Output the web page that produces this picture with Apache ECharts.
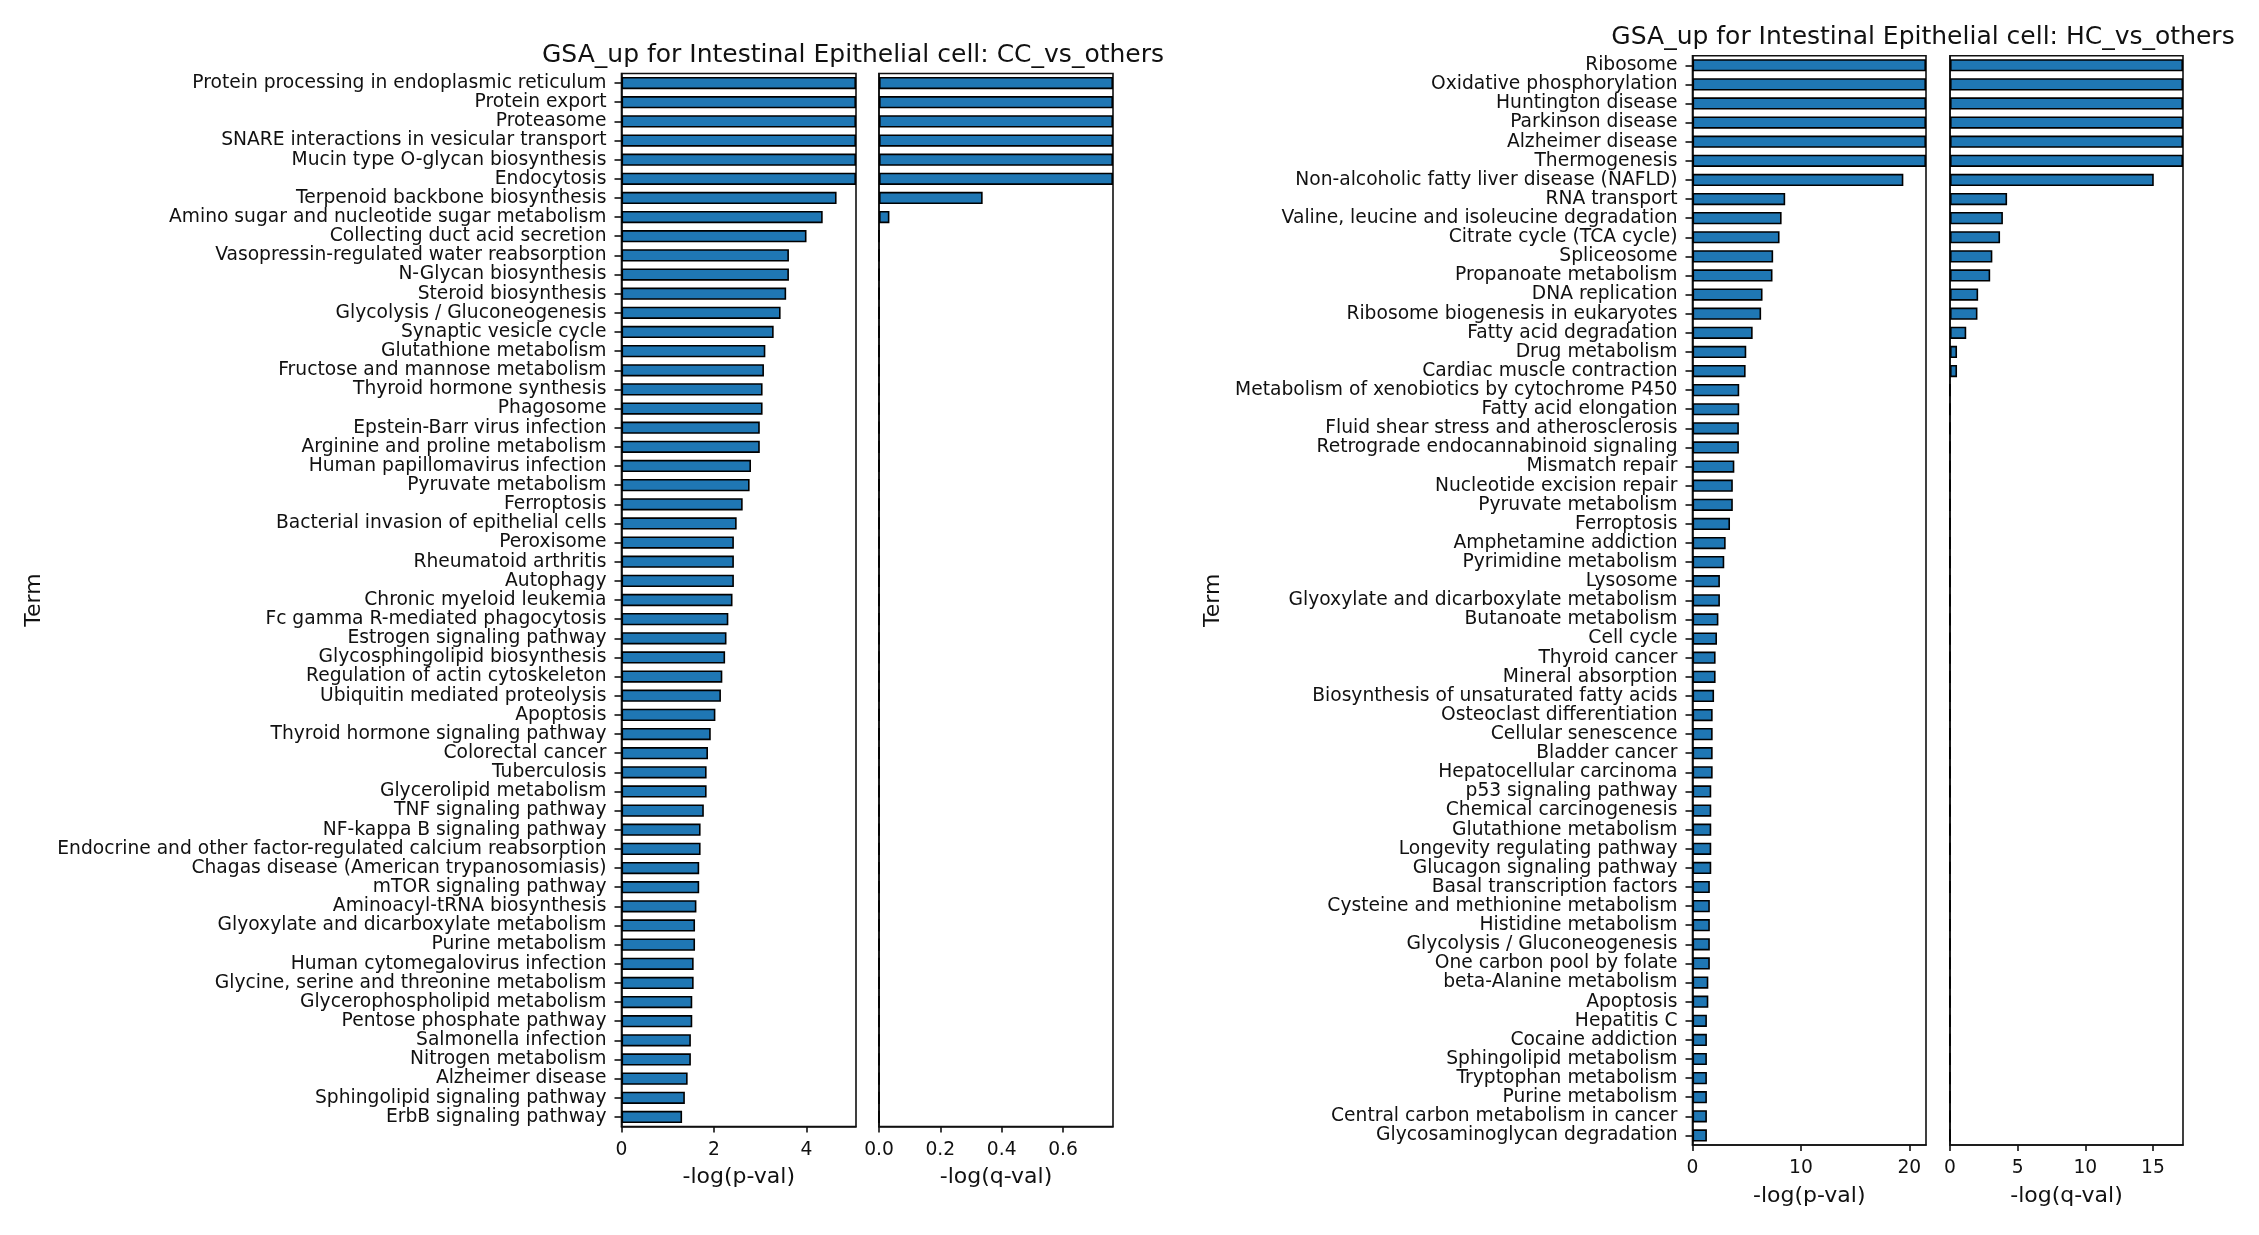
<!DOCTYPE html>
<html>
<head>
<meta charset="utf-8">
<script src="https://cdn.jsdelivr.net/npm/echarts@6/dist/echarts.min.js"></script>
<style>
  html, body { margin: 0; padding: 0; background: #fff; }
  #main { width: 2259px; height: 1235px; }
</style>
</head>
<body>
<div id="main"></div>
<script>
// CC_vs_others
const leftTerms = [
  'Protein processing in endoplasmic reticulum', 'Protein export', 'Proteasome',
  'SNARE interactions in vesicular transport', 'Mucin type O-glycan biosynthesis', 'Endocytosis',
  'Terpenoid backbone biosynthesis', 'Amino sugar and nucleotide sugar metabolism',
  'Collecting duct acid secretion', 'Vasopressin-regulated water reabsorption',
  'N-Glycan biosynthesis', 'Steroid biosynthesis', 'Glycolysis / Gluconeogenesis',
  'Synaptic vesicle cycle', 'Glutathione metabolism', 'Fructose and mannose metabolism',
  'Thyroid hormone synthesis', 'Phagosome', 'Epstein-Barr virus infection',
  'Arginine and proline metabolism', 'Human papillomavirus infection', 'Pyruvate metabolism',
  'Ferroptosis', 'Bacterial invasion of epithelial cells', 'Peroxisome', 'Rheumatoid arthritis',
  'Autophagy', 'Chronic myeloid leukemia', 'Fc gamma R-mediated phagocytosis',
  'Estrogen signaling pathway', 'Glycosphingolipid biosynthesis', 'Regulation of actin cytoskeleton',
  'Ubiquitin mediated proteolysis', 'Apoptosis', 'Thyroid hormone signaling pathway',
  'Colorectal cancer', 'Tuberculosis', 'Glycerolipid metabolism', 'TNF signaling pathway',
  'NF-kappa B signaling pathway', 'Endocrine and other factor-regulated calcium reabsorption',
  'Chagas disease (American trypanosomiasis)', 'mTOR signaling pathway',
  'Aminoacyl-tRNA biosynthesis', 'Glyoxylate and dicarboxylate metabolism', 'Purine metabolism',
  'Human cytomegalovirus infection', 'Glycine, serine and threonine metabolism',
  'Glycerophospholipid metabolism', 'Pentose phosphate pathway', 'Salmonella infection',
  'Nitrogen metabolism', 'Alzheimer disease', 'Sphingolipid signaling pathway', 'ErbB signaling pathway'
];
const leftPval = [
  5.07, 5.07, 5.07, 5.07, 5.07, 5.07, 4.65, 4.35, 4.0, 3.62, 3.62, 3.56, 3.44, 3.29, 3.11,
  3.08, 3.05, 3.05, 2.99, 2.99, 2.80, 2.77, 2.62, 2.49, 2.43, 2.43, 2.43, 2.40, 2.31, 2.27,
  2.24, 2.18, 2.15, 2.03, 1.93, 1.87, 1.84, 1.84, 1.78, 1.71, 1.71, 1.68, 1.68, 1.62, 1.59,
  1.59, 1.56, 1.56, 1.53, 1.53, 1.50, 1.50, 1.43, 1.37, 1.31
];
const leftQval = [
  0.763, 0.763, 0.763, 0.763, 0.763, 0.763, 0.338, 0.034, 0, 0, 0, 0, 0, 0, 0,
  0, 0, 0, 0, 0, 0, 0, 0, 0, 0, 0, 0, 0, 0, 0,
  0, 0, 0, 0, 0, 0, 0, 0, 0, 0, 0, 0, 0, 0, 0,
  0, 0, 0, 0, 0, 0, 0, 0, 0, 0
];

// HC_vs_others
const rightTerms = [
  'Ribosome', 'Oxidative phosphorylation', 'Huntington disease', 'Parkinson disease',
  'Alzheimer disease', 'Thermogenesis', 'Non-alcoholic fatty liver disease (NAFLD)',
  'RNA transport', 'Valine, leucine and isoleucine degradation', 'Citrate cycle (TCA cycle)',
  'Spliceosome', 'Propanoate metabolism', 'DNA replication', 'Ribosome biogenesis in eukaryotes',
  'Fatty acid degradation', 'Drug metabolism', 'Cardiac muscle contraction',
  'Metabolism of xenobiotics by cytochrome P450', 'Fatty acid elongation',
  'Fluid shear stress and atherosclerosis', 'Retrograde endocannabinoid signaling',
  'Mismatch repair', 'Nucleotide excision repair', 'Pyruvate metabolism', 'Ferroptosis',
  'Amphetamine addiction', 'Pyrimidine metabolism', 'Lysosome',
  'Glyoxylate and dicarboxylate metabolism', 'Butanoate metabolism', 'Cell cycle',
  'Thyroid cancer', 'Mineral absorption', 'Biosynthesis of unsaturated fatty acids',
  'Osteoclast differentiation', 'Cellular senescence', 'Bladder cancer',
  'Hepatocellular carcinoma', 'p53 signaling pathway', 'Chemical carcinogenesis',
  'Glutathione metabolism', 'Longevity regulating pathway', 'Glucagon signaling pathway',
  'Basal transcription factors', 'Cysteine and methionine metabolism', 'Histidine metabolism',
  'Glycolysis / Gluconeogenesis', 'One carbon pool by folate', 'beta-Alanine metabolism',
  'Apoptosis', 'Hepatitis C', 'Cocaine addiction', 'Sphingolipid metabolism',
  'Tryptophan metabolism', 'Purine metabolism', 'Central carbon metabolism in cancer',
  'Glycosaminoglycan degradation'
];
const rightPval = [
  21.54, 21.54, 21.54, 21.54, 21.54, 21.54, 19.45, 8.55, 8.22, 8.03, 7.44, 7.38, 6.46, 6.33,
  5.55, 4.96, 4.90, 4.31, 4.31, 4.28, 4.28, 3.86, 3.72, 3.72, 3.46, 3.06, 2.93, 2.53, 2.53,
  2.39, 2.26, 2.13, 2.13, 1.99, 1.86, 1.86, 1.86, 1.86, 1.73, 1.73, 1.73, 1.73, 1.73,
  1.60, 1.60, 1.60, 1.60, 1.60, 1.46, 1.46, 1.33, 1.33, 1.33, 1.33, 1.33, 1.33, 1.33
];
const rightQval = [
  17.22, 17.22, 17.22, 17.22, 17.22, 17.22, 15.06, 4.22, 3.91, 3.70, 3.13, 2.97, 2.08, 2.03,
  1.20, 0.52, 0.52, 0, 0, 0, 0, 0, 0, 0, 0, 0, 0, 0, 0,
  0, 0, 0, 0, 0, 0, 0, 0, 0, 0, 0, 0, 0, 0,
  0, 0, 0, 0, 0, 0, 0, 0, 0, 0, 0, 0, 0, 0
];

const leftPTicks = [0, 2, 4];
const leftQTicks = [0, 0.2, 0.4, 0.6];
const rightPTicks = [0, 10, 20];
const rightQTicks = [0, 5, 10, 15];

const FONT = 'DejaVu Sans';
const INK = '#111';

const chart = echarts.init(document.getElementById('main'), null, { renderer: 'canvas' });

function grid(left, top, width, height) {
  return {
    left: left, top: top, width: width, height: height,
    show: true, borderColor: INK, borderWidth: 1.6, backgroundColor: 'transparent'
  };
}

function xAxis(idx, max, ticks, digits) {
  return {
    type: 'value', gridIndex: idx, min: 0, max: max,
    name: idx % 2 === 0 ? '-log(p-val)' : '-log(q-val)',
    nameLocation: 'middle', nameGap: 40,
    nameTextStyle: { fontFamily: FONT, fontSize: 22, color: INK },
    axisLine: { show: true, onZero: false, lineStyle: { color: INK, width: 1.6 } },
    axisTick: { show: true, length: 6, customValues: ticks, lineStyle: { color: INK, width: 1.6 } },
    axisLabel: {
      customValues: ticks, margin: 14, fontFamily: FONT, fontSize: 18.7, color: INK,
      formatter: v => v.toFixed(digits)
    },
    splitLine: { show: false }
  };
}

function yAxis(idx, terms, withLabels, gap) {
  return {
    type: 'category', gridIndex: idx, data: terms, inverse: true,
    name: withLabels ? 'Term' : '', nameLocation: 'middle', nameGap: gap, nameRotate: 90,
    nameTextStyle: { fontFamily: FONT, fontSize: 22, color: INK },
    axisLine: { show: true, lineStyle: { color: INK, width: 1.6 } },
    axisTick: { show: withLabels, length: 7, alignWithLabel: true, lineStyle: { color: INK, width: 1.6 } },
    axisLabel: {
      show: withLabels, interval: 0, margin: 15,
      fontFamily: FONT, fontSize: 18.7, color: INK
    },
    splitLine: { show: false }
  };
}

function bars(idx, values) {
  return {
    type: 'bar', xAxisIndex: idx, yAxisIndex: idx, data: values,
    barWidth: '64%', clip: true, silent: true,
    itemStyle: { color: '#1f77b4', borderColor: '#000', borderWidth: 1.6 }
  };
}

const option = {
  animation: false,
  backgroundColor: '#fff',
  textStyle: { fontFamily: FONT },
  title: [
    {
      text: 'GSA_up for Intestinal Epithelial cell: CC_vs_others',
      left: 848, top: 38, textAlign: 'center',
      textStyle: { fontFamily: FONT, fontSize: 25, fontWeight: 'normal', color: INK }
    },
    {
      text: 'GSA_up for Intestinal Epithelial cell: HC_vs_others',
      left: 1918, top: 20, textAlign: 'center',
      textStyle: { fontFamily: FONT, fontSize: 25, fontWeight: 'normal', color: INK }
    }
  ],
  grid: [
    grid(621.5, 73.5, 234.5, 1053),
    grid(879, 73.5, 234, 1053),
    grid(1692.5, 55.7, 233.5, 1089.3),
    grid(1950, 55.7, 233, 1089.3)
  ],
  xAxis: [
    xAxis(0, 5.07, leftPTicks, 0),
    xAxis(1, 0.763, leftQTicks, 1),
    xAxis(2, 21.54, rightPTicks, 0),
    xAxis(3, 17.22, rightQTicks, 0)
  ],
  yAxis: [
    yAxis(0, leftTerms, true, 576),
    yAxis(1, leftTerms, false, 0),
    yAxis(2, rightTerms, true, 468),
    yAxis(3, rightTerms, false, 0)
  ],
  series: [
    bars(0, leftPval),
    bars(1, leftQval),
    bars(2, rightPval),
    bars(3, rightQval)
  ]
};

chart.setOption(option);
</script>
</body>
</html>
